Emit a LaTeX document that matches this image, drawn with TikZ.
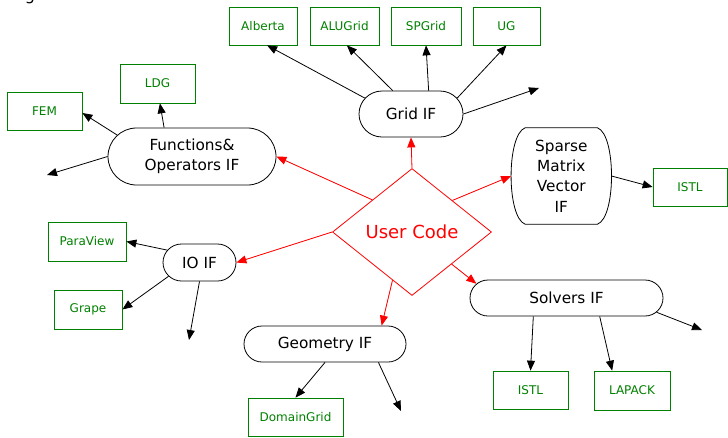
\documentclass[tikz,border=0pt]{standalone}
\usepackage{fontspec}
\setmainfont{DejaVu Sans}
\usetikzlibrary{shapes.geometric,shapes.misc,arrows.meta}
\definecolor{grn}{RGB}{0,128,0}
\begin{document}
\begin{tikzpicture}[x=1pt,y=-1pt,
  box/.style={draw=grn, text=grn, line width=0.7pt, inner sep=0pt,
    font=\fontsize{12}{14}\selectfont, minimum height=38pt},
  ifn/.style={rounded rectangle, draw, line width=0.8pt, inner sep=0pt,
    align=center, font=\fontsize{15.3}{20.2}\selectfont},
  arr/.style={-{Triangle[length=10pt,width=8pt]}, line width=0.8pt},
  rarr/.style={arr, draw=red, fill=red}]
\useasboundingbox (0,0) rectangle (728,437);

% clipped fragment at the top left
\node[anchor=base, inner sep=0pt, font=\fontsize{16}{18}\selectfont] (gfrag) at (30,0) {g};

% green boxes
\node[box, minimum width=68pt] (alberta) at (263,26) {Alberta};
\node[box, minimum width=69pt] (alugrid) at (344.5,26) {ALUGrid};
\node[box, minimum width=70pt] (spgrid) at (426,26) {SPGrid};
\node[box, minimum width=67pt] (ug) at (506.5,26) {UG};
\node[box, minimum width=75pt, minimum height=39pt] (ldg) at (157.5,83.5) {LDG};
\node[box, minimum width=75pt] (fem) at (44.5,111) {FEM};
\node[box, minimum width=74pt] (istla) at (690,187) {ISTL};
\node[box, minimum width=78pt, minimum height=39pt] (paraview) at (87,241.5) {ParaView};
\node[box, minimum width=68pt, minimum height=39pt] (grape) at (88,309.5) {Grape};
\node[box, minimum width=95pt] (domaingrid) at (295.5,417) {DomainGrid};
\node[box, minimum width=75pt] (istlb) at (530.5,390) {ISTL};
\node[box, minimum width=76pt, minimum height=39pt] (lapack) at (632,390.5) {LAPACK};

% interface nodes
\node[ifn, minimum width=104pt, minimum height=46pt] (grid) at (411,114) {Grid IF};
\node[ifn, minimum width=168pt, minimum height=57pt] (fn) at (192,156.5) {Functions\&\\Operators IF};
\node[ifn, minimum width=73pt, minimum height=37pt] (io) at (199.5,262.5) {IO IF};
\node[ifn, minimum width=162pt, minimum height=36pt] (geo) at (325,344) {Geometry IF};
\node[ifn, minimum width=193pt, minimum height=36pt] (sol) at (566.5,298) {Solvers IF};
\node[inner sep=0pt, minimum width=100pt, minimum height=96pt, align=center,
  font=\fontsize{15.3}{20.4}\selectfont] (sp) at (561.3,176) {Sparse\\Matrix\\Vector\\IF};
\draw[line width=0.8pt]
  ([xshift=14pt]sp.north west) -- ([xshift=-14pt]sp.north east)
  .. controls ([xshift=4.7pt,yshift=-7pt]sp.north east) and ([xshift=4.7pt,yshift=7pt]sp.south east)
  .. ([xshift=-14pt]sp.south east) -- ([xshift=14pt]sp.south west)
  .. controls ([xshift=-4.7pt,yshift=7pt]sp.south west) and ([xshift=-4.7pt,yshift=-7pt]sp.north west)
  .. cycle;

% user code
\node[diamond, draw=red, text=red, line width=0.8pt, inner sep=0pt,
  minimum width=159pt, minimum height=127pt,
  font=\fontsize{18}{20}\selectfont] (uc) at (412,232) {User Code};

% red connectors
\draw[rarr] (uc.north) -- (grid.south);
\draw[rarr] (uc.141.8) -- (fn.east);
\draw[rarr] (uc.38.9) -- (sp.west);
\draw[rarr] (uc.west) -- (io.east);
\draw[rarr] (uc.248) -- (geo.18);
\draw[rarr] (uc.-39.7) -- (sol.171);

% free ends
\coordinate (gfree) at (539,88);
\coordinate (ffree) at (47,175);
\coordinate (ifree) at (189,340);
\coordinate (geofree) at (401,411);
\coordinate (sfree) at (702,330);

% black connectors
\draw[arr] (grid.161) -- (alberta.-78);
\draw[arr] (grid.128) -- (alugrid.-83);
\draw[arr] (grid.53.5) -- (spgrid.south);
\draw[arr] (grid.19.5) -- (ug.south);
\draw[arr] (grid.east) -- (gfree);
\draw[arr] (fn.134.5) -- (ldg.-83);
\draw[arr] (fn.164.2) -- (fem.-3);
\draw[arr] (fn.west) -- (ffree);
\draw[arr] (sp.east) -- (istla.west);
\draw[arr] (io.159) -- (paraview.east);
\draw[arr] (io.204.7) -- (grape.east);
\draw[arr] (io.south) -- (ifree);
\draw[arr] (geo.south) -- (domaingrid.north);
\draw[arr] (geo.-19.4) -- (geofree);
\draw[arr] (sol.209.7) -- (istlb.north);
\draw[arr] (sol.-29) -- (lapack.135.7);
\draw[arr] (sol.-9.5) -- (sfree);
\end{tikzpicture}
\end{document}
